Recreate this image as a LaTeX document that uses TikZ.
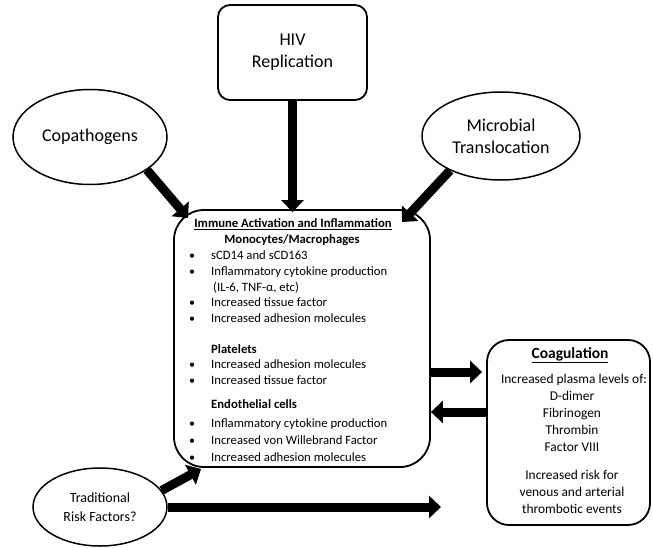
\documentclass[tikz,border=0pt]{standalone}
\usepackage{fontspec}
\setmainfont{Carlito}
\usetikzlibrary{shapes.geometric,arrows.meta}
\begin{document}
\begin{tikzpicture}[x=1pt,y=-1pt,
  rbox/.style={draw, line width=1.8pt, rounded corners=#1, inner sep=0pt},
  ell/.style={draw, ellipse, line width=1.5pt, inner sep=0pt, align=center},
  fat/.style={line width=9pt, -{Triangle[length=12pt,width=22pt]}},
  big/.style={font=\fontsize{18}{22}\selectfont},
  item/.style={inner sep=0pt, anchor=base west, font=\fontsize{12.7}{14}\selectfont},
  head/.style={inner sep=0pt, anchor=base, font=\bfseries\fontsize{12.7}{14}\selectfont},
  ctxt/.style={inner sep=0pt, anchor=base, font=\fontsize{13.4}{15}\selectfont},
  dot/.style={inner sep=0pt, anchor=base, font=\fontsize{12}{13}\selectfont}
]
\useasboundingbox (0,0) rectangle (653,548);

% outer nodes
\node[rbox=12pt, minimum width=149pt, minimum height=95pt, big, align=center] (hiv) at (292.5,52.5) {HIV\\Replication};
\node[ell, minimum width=154pt, minimum height=95pt, big] (copa) at (90,137) {Copathogens};
\node[ell, minimum width=158pt, minimum height=88pt, big] (micro) at (501,136) {Microbial\\Translocation};
\node[ell, minimum width=134pt, minimum height=78pt, font=\fontsize{14}{19}\selectfont] (trad) at (100,507) {Traditional\\Risk Factors?};

% central box
\node[rbox=30pt, minimum width=256pt, minimum height=257pt] (imm) at (302,338.5) {};
\node[head] (t0) at (293,228) {\underline{Immune Activation and Inflammation}};
\node[head] (t1) at (292,243.5) {Monocytes/Macrophages};
\node[dot] (b1) at (192,259.5) {•};
\node[item] (i1) at (211,259.5) {sCD14 and sCD163};
\node[dot] (b2) at (192,275.5) {•};
\node[item] (i2) at (211,275.5) {Inflammatory cytokine production};
\node[item] (i3) at (213,291) {(IL-6, TNF-α, etc)};
\node[dot] (b4) at (192,306.5) {•};
\node[item] (i4) at (211,306.5) {Increased tissue factor};
\node[dot] (b5) at (192,322.5) {•};
\node[item] (i5) at (211,322.5) {Increased adhesion molecules};
\node[item, font=\bfseries\fontsize{12.7}{14}\selectfont] (p0) at (211,353) {Platelets};
\node[dot] (b6) at (192,368.5) {•};
\node[item] (i6) at (211,368.5) {Increased adhesion molecules};
\node[dot] (b7) at (192,384.5) {•};
\node[item] (i7) at (211,384.5) {Increased tissue factor};
\node[item, font=\bfseries\fontsize{12.7}{14}\selectfont] (e0) at (211,408) {Endothelial cells};
\node[dot] (b8) at (192,427) {•};
\node[item] (i8) at (211,427) {Inflammatory cytokine production};
\node[dot] (b9) at (192,444) {•};
\node[item] (i9) at (211,444) {Increased von Willebrand Factor};
\node[dot] (b10) at (192,461) {•};
\node[item] (i10) at (211,461) {Increased adhesion molecules};

% coagulation box
\node[rbox=22pt, minimum width=163pt, minimum height=185pt] (coag) at (568.5,432.5) {};
\node[ctxt, font=\bfseries\fontsize{15.5}{17}\selectfont] (c0) at (570,358) {\underline{Coagulation}};
\node[ctxt] (c1) at (574,383) {Increased plasma levels of:};
\node[ctxt] (c2) at (572,400.5) {D-dimer};
\node[ctxt] (c3) at (572,417.5) {Fibrinogen};
\node[ctxt] (c4) at (572,434.5) {Thrombin};
\node[ctxt] (c5) at (572,451) {Factor VIII};
\node[ctxt] (c6) at (572,479.5) {Increased risk for};
\node[ctxt] (c7) at (572,496.5) {venous and arterial};
\node[ctxt] (c8) at (572,513) {thrombotic events};

% connectors
\coordinate (copatip) at (188,218);
\coordinate (microtip) at (402,222);
\coordinate (tradtip) at (201,469);
\coordinate (longtip) at (441,507);
\coordinate (yR) at (0,372);
\coordinate (yL) at (0,412);

\draw[fat] (hiv.south) -- ([yshift=-3pt]hiv.south |- imm.north);
\draw[fat] (copa.-30) -- (copatip);
\draw[fat] (micro.-146) -- (microtip);
\draw[fat] (imm.east |- yR) -- ([xshift=-4pt]coag.west |- yR);
\draw[fat] (coag.west |- yL) -- (imm.east |- yL);
\draw[fat] (trad.15) -- (tradtip);
\draw[fat] (trad.east) -- (longtip);
\end{tikzpicture}
\end{document}
